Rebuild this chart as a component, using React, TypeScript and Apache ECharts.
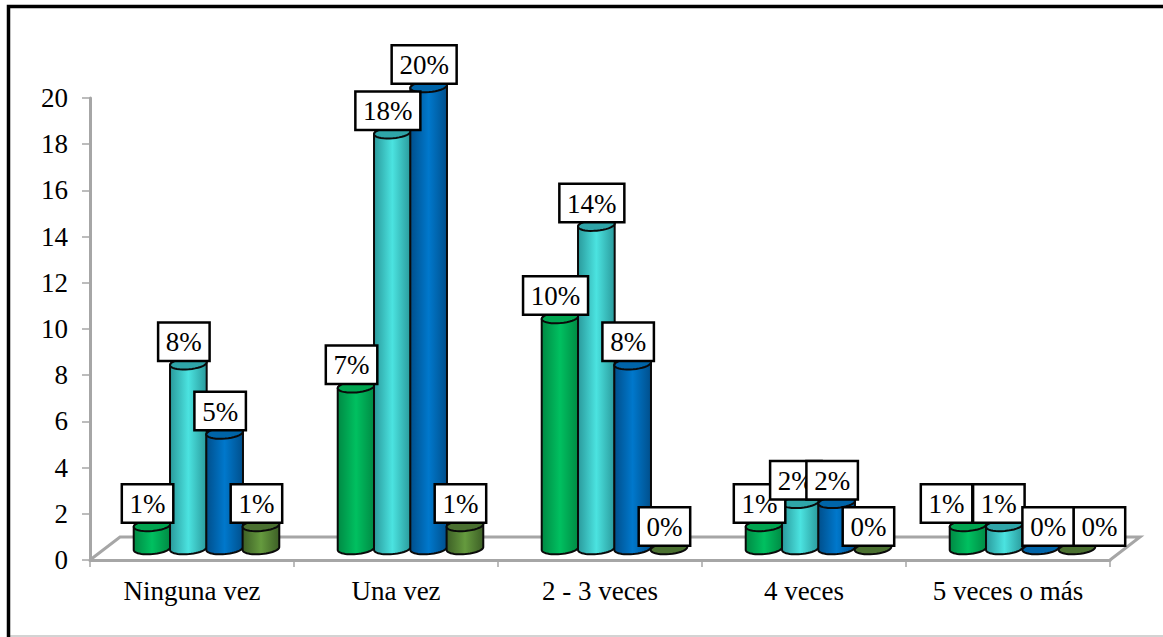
import React, { useEffect, useRef } from "react";
import * as echarts from "echarts";

const categories = ["Ninguna vez", "Una vez", "2 - 3 veces", "4 veces", "5 veces o más"];
const yTicks = { min: 0, max: 20, interval: 2 };

const seriesA = [1, 7, 10, 1, 1];
const seriesB = [8, 18, 14, 2, 1];
const seriesC = [5, 20, 8, 2, 0];
const seriesD = [1, 1, 0, 0, 0];
const seriesValues = [seriesA, seriesB, seriesC, seriesD];

const percentLabelsA = ["1%", "7%", "10%", "1%", "1%"];
const percentLabelsB = ["8%", "18%", "14%", "2%", "1%"];
const percentLabelsC = ["5%", "20%", "8%", "2%", "0%"];
const percentLabelsD = ["1%", "1%", "0%", "0%", "0%"];
const percentLabels = [percentLabelsA, percentLabelsB, percentLabelsC, percentLabelsD];

// side colour, highlight colour, colour of the cap
const palettes = [
  ["#008a44", "#00c060", "#00a550"],
  ["#2a9a9c", "#4be3e0", "#2fa5a8"],
  ["#004f8c", "#0078cc", "#0064a8"],
  ["#3d5f26", "#659a3e", "#4a7030"],
];

const FONT = '"Liberation Serif", "Times New Roman", serif';
const AXIS_GREY = "#a6a6a6";
const DEPTH_X = 30;
const DEPTH_Y = 23;
const BAR_STEP = 36.3;
const RX = 18.4;
const RY = 5.6;
const TILT = (-5 * Math.PI) / 180;

// Points of the tilted ellipse between two angles (radians).
function arc(cx: number, cy: number, from: number, to: number, steps = 24) {
  const pts: number[][] = [];
  const cos = Math.cos(TILT);
  const sin = Math.sin(TILT);
  for (let i = 0; i <= steps; i++) {
    const a = from + ((to - from) * i) / steps;
    const ex = RX * Math.cos(a);
    const ey = RY * Math.sin(a);
    pts.push([cx + ex * cos - ey * sin, cy + ex * sin + ey * cos]);
  }
  return pts;
}

function barCenter(api: any, s: number, cat: number) {
  const [cx] = api.coord([cat, 0]);
  return cx + DEPTH_X / 2 + (s - 1.5) * BAR_STEP - 0.5;
}

function cylinderSeries(s: number) {
  const [side, light, cap] = palettes[s];
  return {
    type: "custom",
    name: "serie-" + s,
    z: 3 + s,
    data: categories.map((c, i) => [c, seriesValues[s][i]]),
    encode: { x: 0, y: 1 },
    renderItem: (_p: any, api: any) => {
      const cat = api.value(0);
      const val = api.value(1);
      const cx = barCenter(api, s, cat);
      const baseY = api.coord([cat, 0])[1] - DEPTH_Y / 2;
      const topY = api.coord([cat, val])[1] - DEPTH_Y / 2;
      const children: any[] = [];
      const line = { stroke: "#0a0a0a", lineWidth: 2 };
      if (val > 0) {
        children.push({
          type: "polygon",
          shape: { points: [...arc(cx, baseY, 0, Math.PI), ...arc(cx, topY, Math.PI, 2 * Math.PI)] },
          style: {
            ...line,
            fill: {
              type: "linear",
              x: 0,
              y: 0,
              x2: 1,
              y2: 0,
              colorStops: [
                { offset: 0, color: side },
                { offset: 0.5, color: light },
                { offset: 1, color: side },
              ],
            },
          },
        });
      }
      children.push({
        type: "polygon",
        shape: { points: arc(cx, topY, 0, 2 * Math.PI, 36) },
        style: { ...line, fill: cap },
      });
      return { type: "group", children };
    },
  };
}

// The last group has its boxes spread apart so that they stay readable.
const lastGroupShift = [-17, -1, 12, 27];

function labelSeries(s: number) {
  return {
    type: "custom",
    name: "etiqueta-" + s,
    z: 20 + s,
    data: categories.map((c, i) => [c, seriesValues[s][i]]),
    encode: { x: 0, y: 1 },
    renderItem: (_p: any, api: any) => {
      const cat = api.value(0);
      const val = api.value(1);
      const shift = cat === categories.length - 1 ? lastGroupShift[s] : 0;
      const x = barCenter(api, s, cat) - 4.5 + shift;
      const y = api.coord([cat, val])[1] - DEPTH_Y / 2 - 4;
      return {
        type: "text",
        x,
        y,
        style: {
          text: percentLabels[s][cat],
          fill: "#000",
          font: "27px " + FONT,
          align: "center",
          verticalAlign: "bottom",
          backgroundColor: "#fff",
          borderColor: "#000",
          borderWidth: 2.5,
          padding: [5, 6.5, 4, 6.5],
        },
      };
    },
  };
}

// Floor of the 3D plot, drawn behind the cylinders.
const floorSeries = {
  type: "custom",
  name: "piso",
  z: 1,
  data: [[categories[0], 0]],
  encode: { x: 0, y: 1 },
  renderItem: (p: any) => {
    const { x, y, width, height } = p.coordSys;
    const by = y + height;
    return {
      type: "polyline",
      shape: {
        points: [
          [x, by],
          [x + DEPTH_X, by - DEPTH_Y],
          [x + width + DEPTH_X, by - DEPTH_Y],
          [x + width, by],
        ],
      },
      style: { stroke: AXIS_GREY, lineWidth: 3, fill: "none" },
    };
  },
};

export default function App() {
  const ref = useRef<HTMLDivElement>(null);

  useEffect(() => {
    document.body.style.margin = "0";
    const chart = echarts.init(ref.current!, null, { renderer: "svg" });
    chart.setOption({
      animation: false,
      backgroundColor: "#fff",
      grid: { left: 90, right: 53, top: 98, bottom: 77 },
      xAxis: {
        type: "category",
        data: categories,
        boundaryGap: true,
        axisLine: { lineStyle: { color: AXIS_GREY, width: 3 } },
        axisTick: { show: true, alignWithLabel: false, length: 7, lineStyle: { color: AXIS_GREY, width: 1.5 } },
        axisLabel: { color: "#000", fontFamily: FONT, fontSize: 27, margin: 17 },
        splitLine: { show: false },
      },
      yAxis: {
        type: "value",
        min: yTicks.min,
        max: yTicks.max,
        interval: yTicks.interval,
        axisLine: { show: true, lineStyle: { color: AXIS_GREY, width: 3 } },
        axisTick: { show: true, length: 8, lineStyle: { color: AXIS_GREY, width: 1.5 } },
        axisLabel: { color: "#000", fontFamily: FONT, fontSize: 27, margin: 22 },
        splitLine: { show: false },
      },
      graphic: [
        {
          type: "line",
          silent: true,
          z: 1,
          shape: { x1: 10, y1: 636, x2: 1163, y2: 636 },
          style: { stroke: "#c4c4c4", lineWidth: 1.5 },
        },
        {
          type: "polyline",
          silent: true,
          z: 2,
          shape: {
            points: [
              [8.5, 637],
              [8.5, 6.5],
              [1163, 6.5],
            ],
          },
          style: { fill: "none", stroke: "#000", lineWidth: 3.5 },
        },
      ],
      series: [
        floorSeries,
        ...seriesValues.map((_, s) => cylinderSeries(s)),
        ...seriesValues.map((_, s) => labelSeries(s)),
      ],
    });
    return () => chart.dispose();
  }, []);

  return <div ref={ref} style={{ width: 1163, height: 637, position: "absolute", left: 0, top: 0 }} />;
}
